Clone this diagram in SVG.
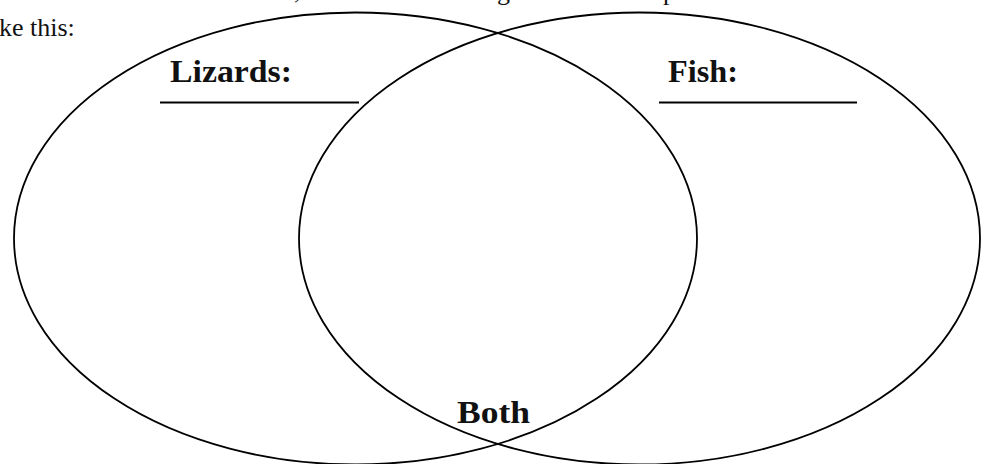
<svg xmlns="http://www.w3.org/2000/svg" width="982" height="464" viewBox="0 0 982 464">
<style>
.ring{fill:none;stroke:#000;stroke-width:1.8}
.rule{stroke:#000;stroke-width:2}
.lbl{font-family:"Liberation Serif","DejaVu Serif",serif;font-weight:bold;font-size:32px;fill:#111}
.body{font-family:"Liberation Serif","DejaVu Serif",serif;font-size:26px;fill:#111}
</style>
<rect width="982" height="464" fill="#fff"/>
<g id="page-text">
<text class="body" x="-1" y="36">ke this:</text>
<text class="body" x="294" y="-1">,</text>
<text class="body" x="497" y="-0.5">g</text>
<text class="body" x="663" y="-0.5">p</text>
</g>
<g id="lizards">
<ellipse class="ring" cx="355.5" cy="238.5" rx="341.5" ry="226"/>
<text class="lbl" x="170" y="82" textLength="122" lengthAdjust="spacingAndGlyphs">Lizards:</text>
<line class="rule" x1="160" y1="102.5" x2="359" y2="102.5"/>
</g>
<g id="fish">
<ellipse class="ring" cx="639.5" cy="238.5" rx="340.5" ry="226"/>
<text class="lbl" x="668" y="82" textLength="70" lengthAdjust="spacingAndGlyphs">Fish:</text>
<line class="rule" x1="659" y1="102.5" x2="857" y2="102.5"/>
</g>
<g id="both">
<text class="lbl" x="457" y="423" textLength="73" lengthAdjust="spacingAndGlyphs">Both</text>
</g>
<g id="connectors"></g>
</svg>
